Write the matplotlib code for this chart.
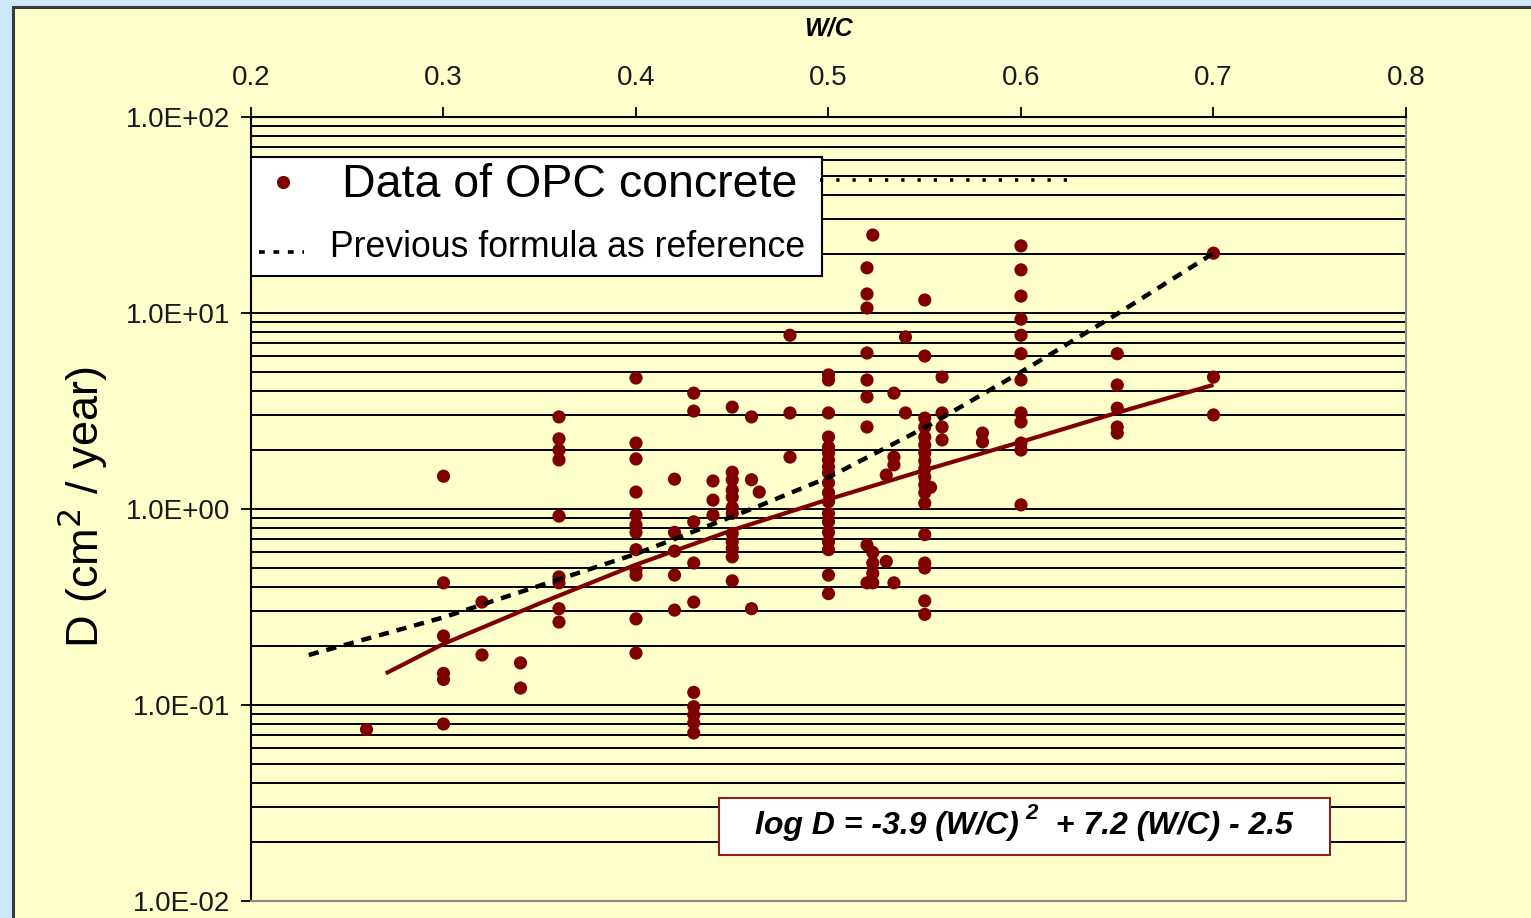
import numpy as np
import matplotlib
matplotlib.use("Agg")
import matplotlib.pyplot as plt
from matplotlib.patches import Rectangle
from matplotlib.ticker import LogLocator, FuncFormatter, FixedLocator

plt.rcParams['font.family'] = ['Liberation Sans', 'DejaVu Sans']

# W/C columns and the diffusion coefficients measured at each one (cm2/year)
wc_cols = [0.26, 0.30, 0.32, 0.34, 0.36, 0.40, 0.42, 0.43, 0.44, 0.45, 0.46, 0.464,
           0.48, 0.50, 0.52, 0.523, 0.53, 0.534, 0.54, 0.55, 0.553, 0.559, 0.58,
           0.60, 0.65, 0.70]
d_cols = [
    [0.075],
    [1.47, 0.42, 0.225, 0.145, 0.135, 0.080],
    [0.335, 0.18],
    [0.164, 0.122],
    [2.95, 2.28, 2.0, 1.78, 0.92, 0.45, 0.42, 0.31, 0.265],
    [4.66, 2.17, 1.80, 1.22, 0.93, 0.83, 0.76, 0.62, 0.49, 0.46, 0.275, 0.184],
    [1.42, 0.76, 0.61, 0.46, 0.305],
    [3.9, 3.16, 0.86, 0.53, 0.335, 0.116, 0.098, 0.089, 0.081, 0.072],
    [1.39, 1.11, 0.93],
    [3.31, 1.54, 1.41, 1.25, 1.15, 1.02, 0.95, 0.75, 0.68, 0.63, 0.57, 0.43],
    [2.95, 1.41, 0.31],
    [1.22],
    [7.7, 3.09, 1.84],
    [4.83, 4.55, 3.09, 2.33, 2.07, 1.93, 1.78, 1.64, 1.53, 1.36, 1.21, 1.09,
     0.95, 0.86, 0.76, 0.68, 0.62, 0.46, 0.37],
    [17.0, 12.5, 10.6, 6.25, 4.55, 3.73, 2.62, 0.655, 0.42],
    [25.0, 0.60, 0.53, 0.47, 0.42],
    [1.49, 0.54],
    [3.9, 1.84, 1.68, 0.42],
    [7.55, 3.09],
    [11.65, 6.03, 2.91, 2.62, 2.33, 2.12, 1.93, 1.76, 1.60, 1.46, 1.33, 1.21,
     1.07, 0.74, 0.53, 0.50, 0.34, 0.29],
    [1.29],
    [4.71, 3.09, 2.62, 2.25],
    [2.44, 2.2],
    [22.0, 16.6, 12.2, 9.3, 7.7, 6.2, 4.55, 3.09, 2.78, 2.17, 2.0, 1.05],
    [6.2, 4.29, 3.27, 2.62, 2.44],
    [20.2, 4.71, 3.02],
]

# regression curve
fit_wc = [0.27, 0.30, 0.35, 0.40, 0.45, 0.50, 0.55, 0.60, 0.65, 0.70]
fit_d = [0.145, 0.205, 0.33, 0.52, 0.78, 1.12, 1.58, 2.2, 3.1, 4.3]

# previous formula (dashed)
prev_wc = [0.23, 0.30, 0.40, 0.46, 0.50, 0.55, 0.60, 0.65, 0.70]
prev_d = [0.18, 0.28, 0.59, 1.0, 1.45, 2.6, 5.0, 9.9, 20.2]

x_ticks = [0.2, 0.3, 0.4, 0.5, 0.6, 0.7, 0.8]

yellow = '#FFFFCC'
maroon = '#7F0000'

wc_all = np.concatenate([[w] * len(d) for w, d in zip(wc_cols, d_cols)])
d_all = np.concatenate(d_cols)

fig = plt.figure(figsize=(15.31, 9.18), dpi=100, facecolor='#CCE6FA')
# yellow panel with dark frame
fig.patches.append(Rectangle((13 / 1531, -0.01), 1.0, 1 - 7 / 918 + 0.01,
                             transform=fig.transFigure, facecolor=yellow,
                             edgecolor='#3C3C3C', lw=2.2, zorder=-5))

ax = fig.add_axes([251 / 1531, 1 - 901 / 918, 1155 / 1531, 784 / 918])
ax.set_zorder(2)
ax.set_facecolor(yellow)
ax.set_yscale('log')
ax.set_xlim(0.2, 0.8)
ax.set_ylim(0.01, 100)

ax.xaxis.tick_top()
ax.xaxis.set_major_locator(FixedLocator(x_ticks))
ax.xaxis.set_major_formatter(FuncFormatter(lambda v, p: f"{v:.1f}"))
ax.yaxis.set_major_locator(LogLocator(base=10))
ax.yaxis.set_minor_locator(LogLocator(base=10, subs=np.arange(2, 10)))
ax.yaxis.set_major_formatter(FuncFormatter(lambda v, p: f"{v:.1E}"))
ax.yaxis.set_minor_formatter(FuncFormatter(lambda v, p: ""))

ax.tick_params(axis='x', which='major', direction='out', length=7, width=1.3,
               labelsize=20, pad=12, colors='black', labelcolor='#1A1A1A')
ax.tick_params(axis='y', which='major', direction='out', length=7, width=1.3,
               labelsize=20, pad=8, labelcolor='#1A1A1A')
ax.tick_params(axis='y', which='minor', length=0)

ax.grid(True, which='both', axis='y', color='black', lw=1.4)
ax.grid(False, axis='x')
ax.set_axisbelow(True)

ax.spines['top'].set_color('black')
ax.spines['left'].set_color('black')
ax.spines['top'].set_linewidth(1.5)
ax.spines['left'].set_linewidth(1.5)
ax.spines['right'].set_color('#8A8A8A')
ax.spines['bottom'].set_color('#8A8A8A')
ax.spines['right'].set_linewidth(1.5)
ax.spines['bottom'].set_linewidth(1.5)

ax.scatter(wc_all, d_all, s=90, color=maroon, edgecolors='none', zorder=3)
ax.plot(fit_wc, fit_d, color=maroon, lw=3.0, solid_capstyle='butt', zorder=4)
ax.plot(prev_wc, prev_d, color='black', lw=3.2, dashes=(2.3, 1.8), zorder=4)

# legend box drawn by hand
ax.add_patch(Rectangle((0.0, 0.797), 0.4944, 0.152, transform=ax.transAxes,
                       facecolor='white', edgecolor='black', lw=1.5, zorder=5))
ax.plot([0.0277], [0.917], 'o', color=maroon, ms=8.5, transform=ax.transAxes,
        zorder=6, clip_on=False)
ax.text(0.0788, 0.913, 'Data of OPC concrete', transform=ax.transAxes,
        fontsize=33.5, va='center', ha='left', zorder=6)
ax.plot([0.007, 0.046], [0.828, 0.828], color='black', lw=2.6,
        dashes=(1.6, 2.4), transform=ax.transAxes, zorder=6)
ax.text(0.0684, 0.834, 'Previous formula as reference', transform=ax.transAxes,
        fontsize=25.7, va='center', ha='left', zorder=6)
ax.plot([0.493, 0.7074], [0.9196, 0.9196], color='black', lw=2.6,
        dashes=(0.9, 3.6), transform=ax.transAxes, zorder=5)

# equation box
ax.add_patch(Rectangle((0.405, 0.0587), 0.529, 0.0727, transform=ax.transAxes,
                       facecolor='white', edgecolor='#8B2020', lw=1.5, zorder=5))
eq_kw = dict(fontsize=23, fontweight='bold', fontstyle='italic', zorder=6)
t1 = ax.text(0.4364, 0.0957, 'log D = -3.9 (W/C)', transform=ax.transAxes,
             va='center', ha='left', **eq_kw)
t2 = ax.annotate('2', xy=(1, 0.55), xycoords=t1, xytext=(5, 0),
                 textcoords='offset points', va='bottom', ha='left',
                 fontsize=16, fontweight='bold', fontstyle='italic', zorder=6)
t3 = ax.annotate('  + 7.2 (W/C) - 2.5', xy=(1, 0), xycoords=(t2, t1),
                 va='bottom', ha='left', **eq_kw)

fig.text(828 / 1531, 1 - 28 / 918, 'W/C', fontsize=18, fontweight='bold',
         fontstyle='italic', ha='center', va='center')
fig.text(83 / 1531, 1 - 507 / 918, 'D (cm$^2$ / year)', fontsize=32.5,
         rotation=90, ha='center', va='center')

fig.savefig('out.png', dpi=100, facecolor=fig.get_facecolor())
